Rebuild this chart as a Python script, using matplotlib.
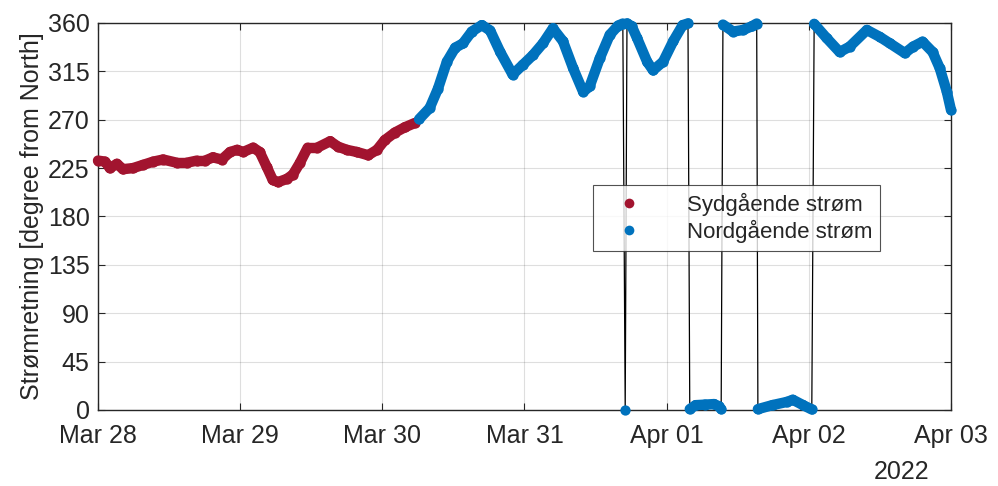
import numpy as np
import pandas as pd
import matplotlib
matplotlib.use("Agg")
import matplotlib.pyplot as plt
import matplotlib.dates as mdates
from matplotlib.collections import LineCollection
from matplotlib.lines import Line2D

##############################################################################
# data: hours since 2022-03-28 00:00, direction in degrees from north

hours = [0.0, 1.2, 2.0, 3.2, 4.2, 5.9, 7.6, 9.3, 11.0, 13.3, 15.0, 16.7, 18.1,
         19.4, 20.9, 22.3, 23.5, 24.5, 26.2, 27.3, 28.5, 29.5, 30.4, 31.9,
         32.9, 34.1, 35.4, 37.0, 39.2, 40.5, 42.0, 43.7, 45.6, 47.1, 48.4,
         50.1, 51.8, 53.5,
         54.2, 56.0, 57.4, 58.9, 60.3, 61.6, 63.1, 64.8, 66.2, 67.9, 70.0,
         71.7, 73.4, 75.1, 76.8, 78.5, 80.2, 81.9, 83.0, 84.7, 86.4, 87.8,
         88.6, 89.0, 89.3, 90.1, 91.0, 92.7, 93.7, 95.4, 97.1, 98.7, 99.6,
         99.9, 100.9, 102.5, 104.0, 104.8, 105.2,
         105.5, 107.2, 108.9, 110.4, 111.2,
         111.4, 113.9, 116.3, 117.3, 119.0, 120.5,
         120.9, 123.0, 125.2, 126.9, 129.8, 132.0, 133.7, 136.2, 137.6,
         139.2, 140.9, 142.1, 143.3, 144.0]
direction = [232, 231, 225, 229, 224, 225, 228, 231, 233, 230, 230, 232, 232,
             235, 233, 240, 242, 240, 244, 240, 226, 214, 212, 215,
             219, 230, 244, 244, 250, 245, 242, 240, 237, 242, 251,
             258, 263, 267,
             270.5, 281, 299, 324, 337, 341, 352, 358, 353, 333, 312,
             321, 330, 341, 355, 343, 318, 296, 301, 327, 349, 357.5,
             359.5, 0.3, 359.6, 357, 346, 324, 316, 324, 343, 358, 359.6,
             0.8, 4.5, 5, 5.5, 3.5, 0.8,
             358.5, 352, 353.5, 357, 359.5,
             0.8, 4.6, 7.5, 9.5, 4.6, 0.5,
             359.2, 346, 333, 338, 353.5, 347, 341, 332, 338,
             342.6, 333, 318, 296, 279]

labels = ["Sydgående strøm", "Nordgående strøm"]
ylabel = "Strømretning [degree from North]"

##############################################################################
fontsize = 18
plt.rcParams["font.family"] = ["Liberation Sans", "DejaVu Sans"]
plt.rcParams["font.size"] = fontsize

red = "#A2142F"
blue = "#0072BD"
axcol = "#262626"

t = pd.Timestamp("2022-03-28") + pd.to_timedelta(hours, unit="h")
x = mdates.date2num(t.to_pydatetime())
d = np.array(direction, dtype=float)
south = (d > 90) & (d < 270)

fig = plt.figure(figsize=(9.98, 4.86), dpi=100)
ax = fig.add_axes([0.0982, 0.1564, 0.8547, 0.7963])

# thin black line through all samples (shows the 360/0 wraps)
ax.plot(x, d, color="k", lw=0.9, zorder=2)

# thick coloured trace, split where the class changes or the angle wraps
for mask, col in [(south, red), (~south, blue)]:
    segs = []
    for i in range(len(d) - 1):
        if mask[i] and mask[i + 1] and abs(d[i + 1] - d[i]) < 180:
            segs.append([(x[i], d[i]), (x[i + 1], d[i + 1])])
    lc = LineCollection(segs, colors=col, linewidths=7.5, capstyle="round",
                        joinstyle="round", zorder=3, clip_on=False)
    ax.add_collection(lc)
    ax.scatter(x[mask], d[mask], s=55, color=col, lw=0, zorder=3, clip_on=False)

ax.set_xlim(mdates.date2num(pd.Timestamp("2022-03-28")),
            mdates.date2num(pd.Timestamp("2022-04-03")))
ax.set_ylim(0, 360)
ax.set_yticks(np.arange(0, 361, 45))
ax.xaxis.set_major_locator(mdates.DayLocator())
ax.xaxis.set_major_formatter(mdates.DateFormatter("%b %d"))

ax.grid(True, color="#000000", alpha=0.13, lw=0.8)
ax.set_axisbelow(True)
for sp in ax.spines.values():
    sp.set_color(axcol)
    sp.set_linewidth(1.0)
ax.tick_params(direction="in", length=5, width=0.8, colors=axcol,
               top=True, right=True, labelsize=fontsize)
ax.tick_params(axis="x", pad=10)
ax.tick_params(axis="y", pad=6)
ax.set_ylabel(ylabel, color=axcol, fontsize=fontsize, labelpad=3)
ax.text(0.975, -0.13, "2022", transform=ax.transAxes, ha="right", va="top",
        color=axcol, fontsize=fontsize)

handles = [Line2D([], [], ls="none", marker="o", ms=7, color=red, mec="none"),
           Line2D([], [], ls="none", marker="o", ms=7, color=blue, mec="none")]
leg = ax.legend(handles, labels, loc="upper left",
                bbox_to_anchor=(0.580, 0.582), borderaxespad=0,
                frameon=True, fancybox=False,
                edgecolor=axcol, fontsize=16, handletextpad=1.3,
                borderpad=0.35, labelspacing=0.2, handlelength=2.6)
leg.get_frame().set_linewidth(0.8)
leg.set_zorder(5)
for txt in leg.get_texts():
    txt.set_color(axcol)

fig.savefig("out.png", dpi=100)
